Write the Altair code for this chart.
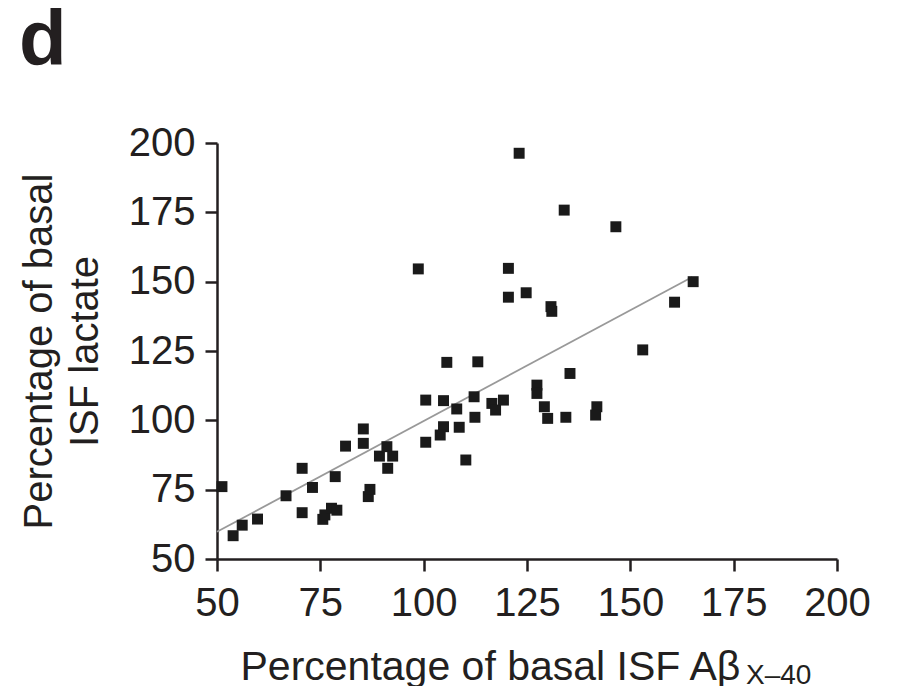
import altair as alt
import pandas as pd

# Scatter values
abeta = [51.2, 53.9, 56.1, 59.8, 66.7, 70.6, 70.6, 73.1, 75.6, 76.1, 77.7, 79.0,
         78.6, 81.1, 85.4, 85.4, 86.6, 87.0, 89.3, 91.1, 92.5, 91.3, 98.7, 100.5,
         100.5, 104.8, 105.6, 104.8, 104.0, 108.0, 108.6, 110.2, 113.1, 112.2,
         112.4, 116.5, 117.4, 119.3, 120.5, 120.5, 123.1, 124.8, 127.4, 127.4,
         129.2, 130.0, 130.8, 131.0, 134.0, 134.4, 135.4, 141.9, 141.6, 146.5,
         153.0, 160.7, 165.2]
lactate = [76.1, 58.4, 62.2, 64.4, 72.8, 82.7, 66.7, 75.8, 64.3, 65.9, 68.3, 67.6,
           79.7, 90.7, 96.9, 91.7, 72.5, 75.1, 87.1, 90.5, 87.1, 82.7, 154.6, 107.3,
           92.1, 107.1, 120.9, 97.7, 94.7, 104.1, 97.5, 85.7, 121.1, 108.5,
           101.1, 106.1, 103.7, 107.3, 154.8, 144.4, 196.3, 146.0, 112.7, 109.7,
           104.9, 100.7, 141.0, 139.3, 175.8, 101.1, 116.9, 104.9, 101.9, 169.8,
           125.4, 142.6, 150.0]

# Fitted line end points
fit_x = [50, 165]
fit_y = [59.8, 151.7]

ticks = [50, 75, 100, 125, 150, 175, 200]

FONT = "Liberation Sans"
INK = "#231f20"

pts = pd.DataFrame({"x": abeta, "y": lactate})
fit = pd.DataFrame({"x": fit_x, "y": fit_y})

xscale = alt.Scale(domain=[50, 200], nice=False, zero=False)
yscale = alt.Scale(domain=[50, 200], nice=False, zero=False)

xaxis = alt.Axis(values=ticks, title="Percentage of basal ISF Aβ", grid=False,
                 domainColor=INK, domainWidth=2.5, tickColor=INK, tickWidth=2.5,
                 tickSize=12, labelFontSize=40, labelFont=FONT, labelColor=INK,
                 labelPadding=12, labelFlush=False, titleFont=FONT, titleFontSize=41,
                 titleFontWeight="normal", titleColor=INK, titleX=23, titleY=120,
                 titleAlign="left", titleBaseline="alphabetic")
yaxis = alt.Axis(values=ticks, title=["Percentage of basal", "ISF lactate"], grid=False,
                 domainColor=INK, domainWidth=2.5, tickColor=INK, tickWidth=2.5,
                 tickSize=12, labelFontSize=40, labelFont=FONT, labelColor=INK,
                 labelPadding=10, labelFlush=False, titleFont=FONT, titleFontSize=40,
                 titleFontWeight="normal", titleColor=INK, titleX=-158, titleY=208,
                 titleBaseline="bottom", titleLineHeight=46)

points = alt.Chart(pts).mark_square(size=120, color="#1a1a1a", opacity=1).encode(
    x=alt.X("x:Q", scale=xscale, axis=xaxis),
    y=alt.Y("y:Q", scale=yscale, axis=yaxis),
)

line = alt.Chart(fit).mark_line(color="#999999", strokeWidth=1.8).encode(
    x=alt.X("x:Q", scale=xscale),
    y=alt.Y("y:Q", scale=yscale),
)

sub = alt.Chart(pd.DataFrame({"t": ["X–40"]})).mark_text(
    font=FONT, fontSize=28, color=INK, align="left", baseline="alphabetic"
).encode(text="t:N", x=alt.value(529), y=alt.value(541))

panel = alt.Chart(pd.DataFrame({"t": ["d"]})).mark_text(
    font=FONT, fontSize=78, fontWeight="bold", color=INK, align="left",
    baseline="alphabetic"
).encode(text="t:N", x=alt.value(-198), y=alt.value(-78))

chart = alt.layer(line, points, sub, panel).properties(
    width=620, height=416,
    background="white",
    autosize=alt.AutoSizeParams(type="none"),
    padding={"left": 209, "top": 135, "right": 55, "bottom": 127},
).configure_view(strokeWidth=0, stroke="transparent")

chart.save("out.html", embed_options={"renderer": "svg", "actions": False})
